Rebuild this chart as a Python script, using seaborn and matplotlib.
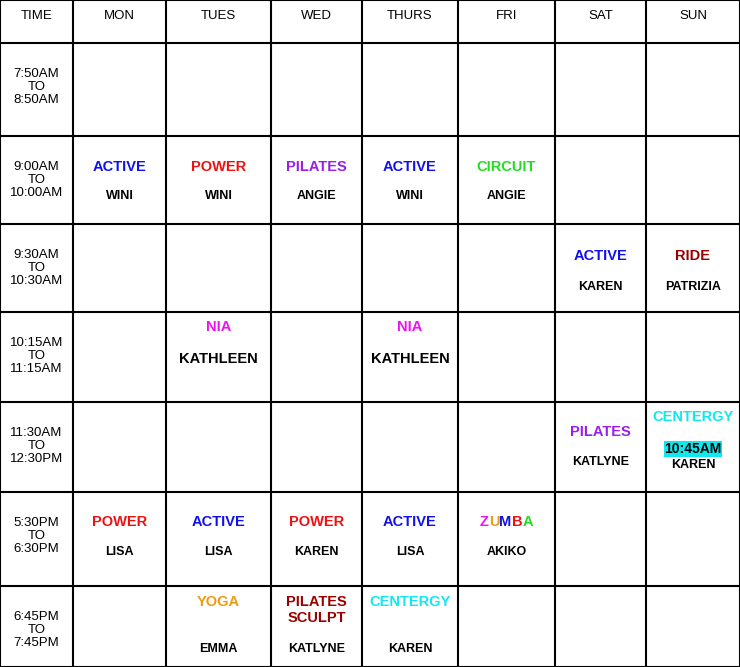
import matplotlib
matplotlib.use("Agg")
import matplotlib.pyplot as plt
import seaborn as sns
from matplotlib.offsetbox import AnchoredOffsetbox, AnnotationBbox, HPacker, TextArea

sns.set_theme(style="white")
plt.rcParams["font.family"] = ["Liberation Sans", "DejaVu Sans"]
plt.rcParams["text.color"] = "black"

days = ["MON", "TUES", "WED", "THURS", "FRI", "SAT", "SUN"]
slots = ["7:50AM\nTO\n8:50AM", "9:00AM\nTO\n10:00AM", "9:30AM\nTO\n10:30AM",
         "10:15AM\nTO\n11:15AM", "11:30AM\nTO\n12:30PM", "5:30PM\nTO\n6:30PM",
         "6:45PM\nTO\n7:45PM"]

# (day index, slot index, class, instructor)
classes = [
    (0, 1, "ACTIVE", "WINI"), (1, 1, "POWER", "WINI"), (2, 1, "PILATES", "ANGIE"),
    (3, 1, "ACTIVE", "WINI"), (4, 1, "CIRCUIT", "ANGIE"),
    (5, 2, "ACTIVE", "KAREN"), (6, 2, "RIDE", "PATRIZIA"),
    (1, 3, "NIA", "KATHLEEN"), (3, 3, "NIA", "KATHLEEN"),
    (5, 4, "PILATES", "KATLYNE"), (6, 4, "CENTERGY", "KAREN"),
    (0, 5, "POWER", "LISA"), (1, 5, "ACTIVE", "LISA"), (2, 5, "POWER", "KAREN"),
    (3, 5, "ACTIVE", "LISA"), (4, 5, "ZUMBA", "AKIKO"),
    (1, 6, "YOGA", "EMMA"), (2, 6, "PILATES\nSCULPT", "KATLYNE"), (3, 6, "CENTERGY", "KAREN"),
]
class_colors = {"ACTIVE": "#1010ee", "POWER": "#ee1111", "PILATES": "#9a1ee8",
                "CIRCUIT": "#22dd22", "NIA": "#ee11ee", "RIDE": "#990000",
                "CENTERGY": "#11e8ee", "YOGA": "#f09a10", "PILATES\nSCULPT": "#990000"}
zumba_colors = ["#ee11ee", "#f09a10", "#1010ee", "#ee1111", "#22dd22"]

# layout (pixels)
col_edges = [0, 73, 166, 271, 362, 458, 555, 646, 740]
row_edges = [0, 43, 136, 224, 312, 402, 492, 586, 667]
class_y = [None, 167, 256, 327, 432, 522, 602]
instr_y = [None, 196, 287, 359, 462, 552, 649]

fig = plt.figure(figsize=(7.40, 6.67), dpi=100)
ax = fig.add_axes([0, 0, 1, 1])
ax.set_xlim(0, 740)
ax.set_ylim(667, 0)
ax.axis("off")

for x in col_edges:
    ax.plot([x, x], [0, 667], color="black", lw=1.5)
for y in row_edges:
    ax.plot([0, 740], [y, y], color="black", lw=1.5)


def cx(i):
    return (col_edges[i] + col_edges[i + 1]) / 2


ax.text(cx(0), 16, "TIME", ha="center", va="center", fontsize=9.5)
for i, d in enumerate(days):
    ax.text(cx(i + 1), 16, d, ha="center", va="center", fontsize=9.5)
for r, s in enumerate(slots):
    ax.text(cx(0), row_edges[r + 1] + 44, s, ha="center", va="center",
            fontsize=9.5, linespacing=1.1)

for d, s, name, who in classes:
    x = cx(d + 1)
    yc, yi = class_y[s], instr_y[s]
    if name == "ZUMBA":
        parts = [TextArea(ch, textprops=dict(color=c, fontsize=10.5, fontweight="bold"))
                 for ch, c in zip(name, zumba_colors)]
        box = HPacker(children=parts, pad=0, sep=0, align="center")
        ab = AnnotationBbox(box, (x, yc), frameon=False, pad=0, box_alignment=(0.5, 0.5))
        ax.add_artist(ab)
    elif name == "CENTERGY" and s == 4:
        ax.text(x, 417, name, ha="center", va="center", fontsize=10.5,
                fontweight="bold", color=class_colors[name])
        ax.text(x, 449, "10:45AM", ha="center", va="center", fontsize=10,
                fontweight="bold", color="black",
                bbox=dict(boxstyle="square,pad=0.05", fc="#11e8ee", ec="none"))
        yi = 465
    else:
        if "\n" in name:
            yc = yc + 8
        ax.text(x, yc, name, ha="center", va="center", fontsize=10.5,
                fontweight="bold", color=class_colors[name], linespacing=1.1)
    fs = 10.5 if who == "KATHLEEN" else 9
    ax.text(x, yi, who, ha="center", va="center", fontsize=fs, fontweight="bold")

fig.savefig("out.png", dpi=100)
